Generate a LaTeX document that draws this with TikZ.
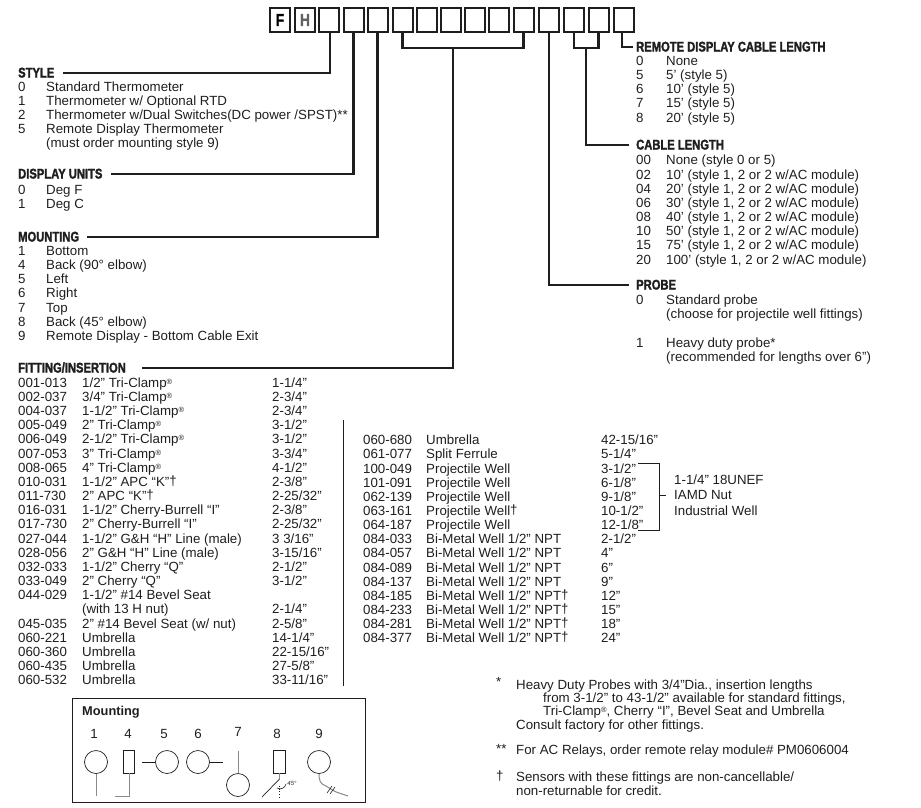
\documentclass[tikz,border=0pt]{standalone}
\usepackage{fontspec}
\usepackage{xcolor}
\usepackage{tikz}
\usetikzlibrary{calc,positioning}
\setmainfont{Liberation Sans}
\newfontfamily\headfont[FakeStretch=0.8,FakeBold=1.8]{Liberation Sans Bold}
\definecolor{inkdark}{HTML}{1E1E1E}
\definecolor{stemgray}{HTML}{8A8A8A}
\newcommand{\regmark}{\raisebox{3.4pt}{\fontsize{7.5}{7.5}\selectfont ®}}
\newcommand{\daggermark}{\raisebox{1pt}{†}}

\begin{document}
\begin{tikzpicture}[
  x=1pt, y=-1pt,
  codebox/.style={rectangle, draw=inkdark, line width=2pt, minimum width=20pt, minimum height=24pt, inner sep=0pt,
    font=\fontsize{17}{17}\headfont},
  headtext/.style={anchor=west, inner sep=0pt, text height=9pt, text depth=0pt, text=inkdark,
    font=\fontsize{14}{14}\headfont},
  rowtext/.style={anchor=west, inner sep=0pt, text height=9pt, text depth=0pt, text=inkdark,
    font=\fontsize{13.3}{14}\selectfont},
  lead/.style={draw=inkdark, line width=2.1pt, line cap=rect},
  thinline/.style={draw=inkdark, line width=0.9pt},
  stem/.style={draw=stemgray, line width=1pt},
  mountcircle/.style={circle, draw=inkdark, line width=0.7pt, minimum size=23pt, inner sep=0pt},
  mountrect/.style={rectangle, draw=inkdark, line width=0.7pt, minimum width=11.5pt, minimum height=23pt, inner sep=0pt},
  mountnum/.style={inner sep=0pt, text=inkdark, font=\fontsize{13.3}{14}\selectfont}
]
  \useasboundingbox (0,0) rectangle (921,807);

  % order code boxes
  \foreach \xpos/\name/\letter in {280/boxF/F, 305/boxH/{\textcolor{inkdark!70}{H}}, 328.5/boxstyle/, 353.5/boxunits/, 377.5/boxmount/,
      402.5/boxfita/, 426.5/boxfitb/, 451/boxfitc/, 475/boxfitd/, 499/boxfite/, 523.5/boxfitf/,
      549/boxprobe/, 574/boxcablea/, 598.5/boxcableb/, 623.5/boxremote/}
    \node[codebox] (\name) at (\xpos,20) {\letter};

  % section headings
  \node[headtext] (headstyle) at (18,73) {STYLE};
  \node[headtext] (headunits) at (18,174) {DISPLAY UNITS};
  \node[headtext] (headmount) at (18,237) {MOUNTING};
  \node[headtext] (headfit) at (18,368) {FITTING/INSERTION};
  \node[headtext] (headremote) at (636,47) {REMOTE DISPLAY CABLE LENGTH};
  \node[headtext] (headcable) at (636,145) {CABLE LENGTH};
  \node[headtext] (headprobe) at (636,285) {PROBE};

  % leaders from boxes to headings
  \coordinate (fitjoin) at (452.7,48);
  \coordinate (cablejoin) at (586,48);
  \draw[lead] ([xshift=1.5pt]boxstyle.south) |- ([xshift=10pt]headstyle.east);
  \draw[lead] (boxunits.south) |- ([xshift=9pt]headunits.east);
  \draw[lead] (boxmount.south) |- ([xshift=9pt]headmount.east);
  \draw[lead] (boxfita.south) |- (fitjoin);
  \draw[lead] (boxfitf.south) |- (fitjoin);
  \draw[lead] (fitjoin) |- ([xshift=17pt]headfit.east);
  \draw[lead] (boxprobe.south) |- ([xshift=-8pt]headprobe.west);
  \draw[lead] (boxcablea.south) |- (cablejoin);
  \draw[lead] (boxcableb.south) |- (cablejoin);
  \draw[lead] (cablejoin) |- ([xshift=-8pt]headcable.west);
  \draw[lead] ([xshift=-1.5pt]boxremote.south) |- ([xshift=-4pt]headremote.west);

  % left column lists
  \foreach \ypos/\code/\desc [count=\n] in {87/0/Standard Thermometer, 101/1/{Thermometer w/ Optional RTD},
      115/2/{Thermometer w/Dual Switches(DC power /SPST)**}, 129/5/Remote Display Thermometer} {
    \node[rowtext] (stylecode\n) at (18,\ypos) {\code};
    \node[rowtext] (styledesc\n) at (46,\ypos) {\desc};
  }
  \node[rowtext] (stylenote) at (46,143) {(must order mounting style 9)};
  \foreach \ypos/\code/\desc [count=\n] in {190/0/Deg F, 204/1/Deg C} {
    \node[rowtext] (unitcode\n) at (18,\ypos) {\code};
    \node[rowtext] (unitdesc\n) at (46,\ypos) {\desc};
  }
  \foreach \ypos/\code/\desc [count=\n] in {251/1/Bottom, 265/4/Back (90° elbow), 279/5/Left, 293/6/Right, 308/7/Top,
      322/8/Back (45° elbow), 336/9/Remote Display - Bottom Cable Exit} {
    \node[rowtext] (mountcode\n) at (18,\ypos) {\code};
    \node[rowtext] (mountdesc\n) at (46,\ypos) {\desc};
  }

  % fitting table, first column
  \foreach \ypos/\code/\desc/\len [count=\n] in {
      383/001-013/{1/2” Tri-Clamp\regmark}/{1-1/4”},
      397/002-037/{3/4” Tri-Clamp\regmark}/{2-3/4”},
      411/004-037/{1-1/2” Tri-Clamp\regmark}/{2-3/4”},
      425/005-049/{2” Tri-Clamp\regmark}/{3-1/2”},
      439/006-049/{2-1/2” Tri-Clamp\regmark}/{3-1/2”},
      454/007-053/{3” Tri-Clamp\regmark}/{3-3/4”},
      468/008-065/{4” Tri-Clamp\regmark}/{4-1/2”},
      482/010-031/{1-1/2” APC “K”\daggermark}/{2-3/8”},
      496/011-730/{2” APC “K”\daggermark}/{2-25/32”},
      510/016-031/{1-1/2” Cherry-Burrell “I”}/{2-3/8”},
      524/017-730/{2” Cherry-Burrell “I”}/{2-25/32”},
      539/027-044/{1-1/2” G\&H “H” Line (male)}/{3 3/16”},
      553/028-056/{2” G\&H “H” Line (male)}/{3-15/16”},
      567/032-033/{1-1/2” Cherry “Q”}/{2-1/2”},
      581/033-049/{2” Cherry “Q”}/{3-1/2”},
      624/045-035/{2” \#14 Bevel Seat (w/ nut)}/{2-5/8”},
      638/060-221/Umbrella/{14-1/4”},
      652/060-360/Umbrella/{22-15/16”},
      666/060-435/Umbrella/{27-5/8”},
      680/060-532/Umbrella/{33-11/16”}} {
    \node[rowtext] (fitcode\n) at (18,\ypos) {\code};
    \node[rowtext] (fitdesc\n) at (82,\ypos) {\desc};
    \node[rowtext] (fitlen\n) at (272,\ypos) {\len};
  }
  \node[rowtext] (bevelcode) at (18,595) {044-029};
  \node[rowtext] (beveldesc) at (82,595) {1-1/2” \#14 Bevel Seat};
  \node[rowtext] (bevelnut) at (82,609) {(with 13 H nut)};
  \node[rowtext] (bevellen) at (272,609) {2-1/4”};

  \coordinate (splittop) at (343,420);
  \coordinate (splitbot) at (343,686);
  \draw[thinline] (splittop) -- (splitbot);

  % fitting table, second column
  \foreach \ypos/\code/\desc/\len [count=\n] in {
      440/060-680/Umbrella/{42-15/16”},
      454/061-077/Split Ferrule/{5-1/4”},
      469/100-049/Projectile Well/{3-1/2”},
      483/101-091/Projectile Well/{6-1/8”},
      497/062-139/Projectile Well/{9-1/8”},
      511/063-161/{Projectile Well\daggermark}/{10-1/2”},
      525/064-187/Projectile Well/{12-1/8”},
      539/084-033/{Bi-Metal Well 1/2” NPT}/{2-1/2”},
      553/084-057/{Bi-Metal Well 1/2” NPT}/{4”},
      568/084-089/{Bi-Metal Well 1/2” NPT}/{6”},
      582/084-137/{Bi-Metal Well 1/2” NPT}/{9”},
      596/084-185/{Bi-Metal Well 1/2” NPT\daggermark}/{12”},
      610/084-233/{Bi-Metal Well 1/2” NPT\daggermark}/{15”},
      624/084-281/{Bi-Metal Well 1/2” NPT\daggermark}/{18”},
      638/084-377/{Bi-Metal Well 1/2” NPT\daggermark}/{24”}} {
    \node[rowtext] (welcode\n) at (363,\ypos) {\code};
    \node[rowtext] (weldesc\n) at (426,\ypos) {\desc};
    \node[rowtext] (wellen\n) at (601,\ypos) {\len};
  }

  % well bracket
  \node[rowtext] (nutline1) at (674,480) {1-1/4” 18UNEF};
  \node[rowtext] (nutline2) at (674,495) {IAMD Nut};
  \node[rowtext] (nutline3) at (674,511) {Industrial Well};
  \coordinate (welltop) at (638,463);
  \coordinate (wellbot) at (638,530);
  \draw[thinline] (welltop) -| (659,530) -- (wellbot);
  \draw[thinline] (659,495) -- ([xshift=-8pt]nutline2.west);

  % right column lists
  \foreach \ypos/\code/\desc [count=\n] in {61/0/None, 75/5/5’ (style 5), 89/6/10’ (style 5), 103/7/15’ (style 5), 118/8/20’ (style 5)} {
    \node[rowtext] (remotecode\n) at (636,\ypos) {\code};
    \node[rowtext] (remotedesc\n) at (666,\ypos) {\desc};
  }
  \foreach \ypos/\code/\desc [count=\n] in {160/00/None (style 0 or 5), 175/02/{10’ (style 1, 2 or 2 w/AC module)},
      189/04/{20’ (style 1, 2 or 2 w/AC module)}, 203/06/{30’ (style 1, 2 or 2 w/AC module)},
      217/08/{40’ (style 1, 2 or 2 w/AC module)}, 231/10/{50’ (style 1, 2 or 2 w/AC module)},
      245/15/{75’ (style 1, 2 or 2 w/AC module)}, 260/20/{100’ (style 1, 2 or 2 w/AC module)}} {
    \node[rowtext] (cablecode\n) at (636,\ypos) {\code};
    \node[rowtext] (cabledesc\n) at (666,\ypos) {\desc};
  }
  \node[rowtext] (probecode1) at (636,300) {0};
  \node[rowtext] (probedesc1) at (666,300) {Standard probe};
  \node[rowtext] (probenote1) at (666,314) {(choose for projectile well fittings)};
  \node[rowtext] (probecode2) at (636,343) {1};
  \node[rowtext] (probedesc2) at (666,343) {Heavy duty probe*};
  \node[rowtext] (probenote2) at (666,357) {(recommended for lengths over 6”)};

  % footnotes
  \node[rowtext] (starmark) at (496,682) {*};
  \node[rowtext] (starline1) at (516,685) {Heavy Duty Probes with 3/4”Dia., insertion lengths};
  \node[rowtext] (starline2) at (543,698) {from 3-1/2” to 43-1/2” available for standard fittings,};
  \node[rowtext] (starline3) at (543,711) {Tri-Clamp\regmark, Cherry “I”, Bevel Seat and Umbrella};
  \node[rowtext] (starline4) at (516,725) {Consult factory for other fittings.};
  \node[rowtext] (relaymark) at (496,749) {**};
  \node[rowtext] (relayline) at (516,750) {For AC Relays, order remote relay module\# PM0606004};
  \node[rowtext] (dagmark) at (496,776) {†};
  \node[rowtext] (dagline1) at (516,777) {Sensors with these fittings are non-cancellable/};
  \node[rowtext] (dagline2) at (516,791) {non-returnable for credit.};

  % mounting key
  \draw[inkdark, line width=1pt] (72,698) rectangle (365,802);
  \node[headtext, font=\fontsize{12.8}{14}\bfseries\selectfont] (keytitle) at (82,711) {Mounting};
  \foreach \xpos/\ypos/\num in {94/734/1, 128/734/4, 164/734/5, 198/734/6, 238/732/7, 277/734/8, 319/734/9}
    \node[mountnum] (keynum\num) at (\xpos,\ypos) {\num};

  \node[mountcircle] (mnta) at (96,762) {};
  \coordinate (mntaend) at (96,796);
  \draw[stem] (mnta.south) -- (mntaend);

  \node[mountrect] (mntb) at (129,761.5) {};
  \coordinate (mntbend) at (115,796);
  \draw[stem] (mntb.south) |- (mntbend);

  \node[mountcircle] (mntc) at (167,762) {};
  \coordinate (mntcend) at (142,762);
  \draw[thinline] (mntc.west) -- (mntcend);

  \node[mountcircle] (mntd) at (198,762) {};
  \coordinate (mntdend) at (223,762);
  \draw[thinline] (mntd.east) -- (mntdend);

  \node[mountcircle] (mnte) at (238,785) {};
  \coordinate (mnteend) at (238,751);
  \draw[stem] (mnte.north) -- (mnteend);

  \node[mountrect] (mntf) at (279.5,761.5) {};
  \coordinate (mntfbend) at (279.5,779);
  \draw[stem] (mntf.south) -- (mntfbend);
  \draw[inkdark, line width=0.7pt] (262,797) -- (mntfbend);
  \draw[inkdark, line width=0.7pt, dotted] (279.5,786) -- (279.5,797);
  \draw[inkdark, line width=0.6pt] (277,788) .. controls (281,790) and (285,788) .. (286,784);
  \node[inner sep=0pt, text=inkdark, font=\fontsize{6}{6}\itshape\selectfont] (keyangle) at (292,783) {45°};

  \node[mountcircle] (mntg) at (319,762) {};
  \draw[stem] (mntg.south) .. controls (319,780) and (320,784) .. (326,786)
    .. controls (331,789) and (335,792) .. (339,793) .. controls (342,794) and (345,795) .. (348,796);
  \draw[inkdark, line width=0.6pt] (327,793) -- (332,786) (330,794) -- (335,787);
\end{tikzpicture}
\end{document}
